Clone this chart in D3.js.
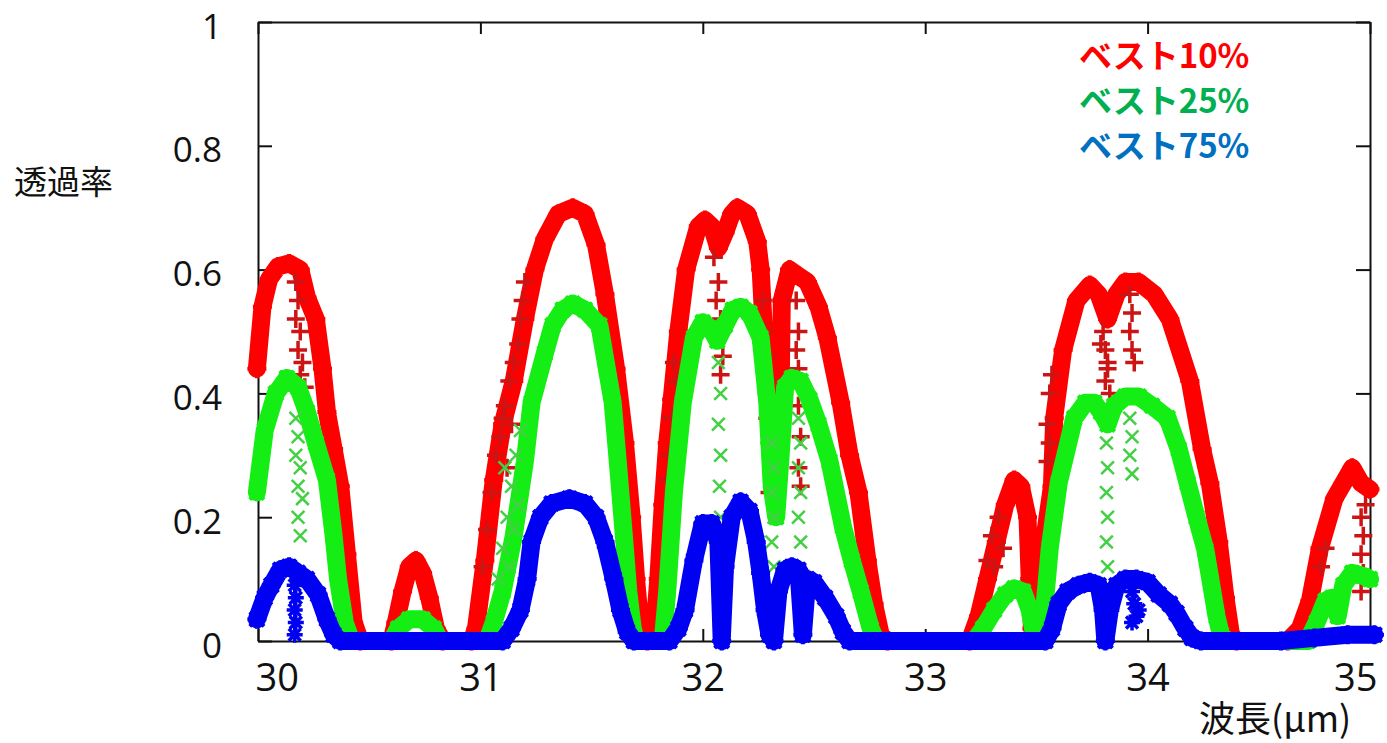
<!DOCTYPE html>
<html>
<head>
<meta charset="utf-8">
<script src="https://cdn.jsdelivr.net/npm/d3@7"></script>
<style>
  body { margin: 0; background: #fff; }
  svg { display: block; }
</style>
</head>
<body>
<div id="chart"></div>
<script>
// axis ticks and legend
const xTicks = [30, 31, 32, 33, 34, 35];
const yTicks = [0, 0.2, 0.4, 0.6, 0.8, 1];
const legendLabels = ['ベスト10%', 'ベスト25%', 'ベスト75%'];

// envelope of each series [wavelength, transmittance]
const best10 = [
  [29.995, 0.44], [30.02, 0.54], [30.05, 0.585], [30.09, 0.605], [30.14, 0.61], [30.19, 0.60], [30.22, 0.555],
  [30.26, 0.52], [30.29, 0.44], [30.31, 0.37], [30.34, 0.31], [30.37, 0.25], [30.40, 0.14], [30.43, 0.03], [30.46, 0.0],
  [30.60, 0.0], [30.62, 0.03], [30.65, 0.08], [30.68, 0.12], [30.71, 0.13], [30.74, 0.11], [30.77, 0.07], [30.80, 0.02], [30.83, 0.0],
  [30.96, 0.0], [30.98, 0.02], [31.02, 0.13], [31.06, 0.26], [31.10, 0.35], [31.15, 0.42], [31.20, 0.52], [31.245, 0.60],
  [31.29, 0.65], [31.35, 0.69], [31.415, 0.70], [31.47, 0.69], [31.52, 0.64], [31.56, 0.56], [31.61, 0.44], [31.65, 0.32],
  [31.68, 0.20], [31.70, 0.10], [31.72, 0.02], [31.75, 0.0],
  [31.78, 0.01], [31.80, 0.10], [31.82, 0.22], [31.84, 0.32], [31.86, 0.39], [31.89, 0.50], [31.925, 0.60], [31.98, 0.67],
  [32.01, 0.68], [32.04, 0.67], [32.07, 0.635], [32.10, 0.66], [32.13, 0.69], [32.155, 0.70], [32.20, 0.69], [32.245, 0.645],
  [32.26, 0.60], [32.29, 0.40], [32.31, 0.30], [32.33, 0.30], [32.35, 0.40], [32.355, 0.55], [32.39, 0.60], [32.43, 0.59],
  [32.47, 0.58], [32.52, 0.54], [32.56, 0.49], [32.62, 0.385], [32.66, 0.30], [32.70, 0.24], [32.74, 0.13], [32.77, 0.06],
  [32.80, 0.01], [32.83, 0.0],
  [33.20, 0.0], [33.24, 0.04], [33.28, 0.10], [33.32, 0.16], [33.36, 0.22], [33.40, 0.26], [33.43, 0.25], [33.46, 0.20],
  [33.47, 0.10], [33.48, 0.02], [33.51, 0.01], [33.53, 0.15], [33.57, 0.25], [33.58, 0.36], [33.62, 0.47], [33.68, 0.55],
  [33.74, 0.575], [33.78, 0.56], [33.82, 0.52], [33.86, 0.56], [33.90, 0.58], [33.96, 0.58], [34.03, 0.56], [34.10, 0.52],
  [34.19, 0.42], [34.245, 0.31], [34.28, 0.255], [34.32, 0.16], [34.35, 0.07], [34.375, 0.01], [34.40, 0.0],
  [34.63, 0.0], [34.685, 0.02], [34.73, 0.065], [34.775, 0.15], [34.84, 0.23], [34.88, 0.255], [34.92, 0.28], [34.96, 0.255], [35.0, 0.245]
];

const best25 = [
  [29.995, 0.24], [30.03, 0.34], [30.08, 0.40], [30.13, 0.425], [30.18, 0.41], [30.22, 0.37], [30.26, 0.32], [30.31, 0.26],
  [30.34, 0.17], [30.36, 0.10], [30.39, 0.03], [30.42, 0.0],
  [30.60, 0.0], [30.63, 0.02], [30.68, 0.035], [30.74, 0.035], [30.79, 0.02], [30.82, 0.0],
  [31.03, 0.0], [31.06, 0.03], [31.10, 0.08], [31.15, 0.17], [31.20, 0.29], [31.23, 0.385], [31.29, 0.465], [31.325, 0.51],
  [31.37, 0.535], [31.415, 0.545], [31.47, 0.535], [31.535, 0.51], [31.595, 0.385], [31.62, 0.28], [31.645, 0.17],
  [31.665, 0.08], [31.685, 0.02], [31.70, 0.0],
  [31.82, 0.0], [31.84, 0.08], [31.87, 0.24], [31.91, 0.385], [31.96, 0.49], [32.0, 0.515], [32.035, 0.505], [32.065, 0.485],
  [32.10, 0.51], [32.135, 0.535], [32.17, 0.54], [32.21, 0.53], [32.26, 0.49], [32.29, 0.385], [32.31, 0.25], [32.33, 0.20],
  [32.35, 0.30], [32.37, 0.41], [32.40, 0.425], [32.44, 0.42], [32.48, 0.39], [32.52, 0.35], [32.57, 0.29], [32.63, 0.185],
  [32.67, 0.13], [32.71, 0.08], [32.755, 0.02], [32.78, 0.0],
  [33.22, 0.0], [33.26, 0.02], [33.31, 0.05], [33.36, 0.075], [33.40, 0.085], [33.44, 0.08], [33.47, 0.05], [33.49, 0.01],
  [33.51, 0.0], [33.53, 0.03], [33.56, 0.15], [33.60, 0.255], [33.67, 0.36], [33.72, 0.385], [33.76, 0.385], [33.79, 0.37],
  [33.82, 0.35], [33.85, 0.38], [33.90, 0.395], [33.96, 0.395], [34.02, 0.38], [34.09, 0.36], [34.14, 0.31], [34.18, 0.255],
  [34.22, 0.20], [34.26, 0.147], [34.31, 0.04], [34.33, 0.01], [34.36, 0.0],
  [34.72, 0.0], [34.76, 0.03], [34.80, 0.065], [34.83, 0.07], [34.855, 0.04], [34.88, 0.09], [34.92, 0.11], [34.97, 0.105], [35.0, 0.10]
];

const best75 = [
  [29.995, 0.035], [30.03, 0.07], [30.06, 0.09], [30.10, 0.115], [30.14, 0.12], [30.18, 0.11], [30.22, 0.10], [30.27, 0.075],
  [30.31, 0.035], [30.34, 0.01], [30.37, 0.0],
  [31.10, 0.0], [31.14, 0.02], [31.18, 0.05], [31.21, 0.10], [31.23, 0.16], [31.27, 0.20], [31.32, 0.222], [31.40, 0.23],
  [31.47, 0.222], [31.52, 0.20], [31.56, 0.16], [31.60, 0.10], [31.63, 0.05], [31.66, 0.015], [31.69, 0.0],
  [31.85, 0.0], [31.89, 0.02], [31.92, 0.05], [31.96, 0.13], [32.0, 0.19], [32.04, 0.19], [32.07, 0.16], [32.085, 0.0],
  [32.10, 0.12], [32.13, 0.20], [32.17, 0.225], [32.21, 0.21], [32.24, 0.16], [32.26, 0.11], [32.28, 0.05], [32.30, 0.01],
  [32.32, 0.0], [32.34, 0.08], [32.37, 0.115], [32.40, 0.12], [32.43, 0.115], [32.45, 0.01], [32.47, 0.10], [32.50, 0.095],
  [32.55, 0.07], [32.60, 0.04], [32.63, 0.015], [32.66, 0.0],
  [33.54, 0.0], [33.57, 0.02], [33.60, 0.06], [33.64, 0.08], [33.69, 0.09], [33.74, 0.095], [33.78, 0.09], [33.80, 0.05],
  [33.81, 0.0], [33.83, 0.05], [33.86, 0.09], [33.90, 0.10], [33.95, 0.10], [34.0, 0.095], [34.05, 0.075], [34.10, 0.06],
  [34.13, 0.045], [34.17, 0.02], [34.20, 0.005], [34.24, 0.0],
  [34.60, 0.0], [34.75, 0.005], [34.90, 0.01], [35.02, 0.01]
];

// loose points that fall below the envelopes
const best10Scatter = [
  [30.17, 0.58], [30.18, 0.55], [30.17, 0.52], [30.19, 0.50], [30.18, 0.47], [30.20, 0.45], [30.19, 0.43], [30.21, 0.41],
  [31.20, 0.58], [31.19, 0.55], [31.18, 0.52], [31.17, 0.48], [31.15, 0.45], [31.13, 0.42], [31.11, 0.38], [31.10, 0.36],
  [31.09, 0.33], [31.07, 0.30], [31.05, 0.24], [31.03, 0.18], [31.01, 0.12], [31.12, 0.28], [31.14, 0.35],
  [32.05, 0.62], [32.07, 0.58], [32.06, 0.55], [32.08, 0.52], [32.07, 0.49], [32.09, 0.46], [32.08, 0.43],
  [31.87, 0.45], [31.88, 0.42], [31.86, 0.36], [31.85, 0.30], [31.84, 0.26],
  [32.27, 0.55], [32.28, 0.50], [32.29, 0.46], [32.30, 0.42], [32.29, 0.36], [32.30, 0.32], [32.31, 0.28], [32.30, 0.24],
  [32.42, 0.55], [32.43, 0.50], [32.42, 0.47], [32.43, 0.44], [32.44, 0.41], [32.43, 0.38], [32.44, 0.33], [32.43, 0.28], [32.44, 0.25],
  [33.80, 0.50], [33.81, 0.47], [33.82, 0.44], [33.81, 0.42], [33.83, 0.40], [33.82, 0.45], [33.79, 0.48],
  [33.92, 0.56], [33.93, 0.53], [33.92, 0.50], [33.93, 0.47], [33.94, 0.45],
  [33.55, 0.35], [33.56, 0.32], [33.55, 0.29], [33.56, 0.40], [33.57, 0.43],
  [33.28, 0.13], [33.30, 0.17], [33.33, 0.20], [33.31, 0.12], [33.35, 0.15],
  [34.96, 0.20], [34.97, 0.17], [34.96, 0.14], [34.97, 0.11], [34.96, 0.08], [34.98, 0.22], [34.78, 0.12], [34.80, 0.15]
];

const best25Scatter = [
  [30.17, 0.36], [30.18, 0.33], [30.17, 0.30], [30.19, 0.28], [30.18, 0.25], [30.20, 0.23], [30.18, 0.20], [30.19, 0.17],
  [31.08, 0.10], [31.10, 0.15], [31.12, 0.20], [31.14, 0.25], [31.16, 0.30], [31.17, 0.22], [31.13, 0.12], [31.18, 0.34],
  [31.11, 0.28], [31.15, 0.18],
  [32.07, 0.45], [32.08, 0.40], [32.07, 0.35], [32.08, 0.30], [32.075, 0.25], [32.08, 0.20],
  [32.31, 0.32], [32.32, 0.28], [32.31, 0.24], [32.32, 0.20], [32.31, 0.16], [32.32, 0.12],
  [32.43, 0.36], [32.44, 0.32], [32.43, 0.28], [32.44, 0.24], [32.43, 0.20], [32.44, 0.16],
  [33.815, 0.32], [33.82, 0.28], [33.815, 0.24], [33.82, 0.20], [33.815, 0.16], [33.82, 0.12],
  [33.92, 0.36], [33.93, 0.33], [33.92, 0.30], [33.93, 0.27]
];

const best75Scatter = [
  [30.165, 0.09], [30.17, 0.07], [30.165, 0.05], [30.17, 0.03], [30.165, 0.01],
  [33.93, 0.08], [33.94, 0.06], [33.95, 0.04], [33.93, 0.03], [33.96, 0.05]
];

const width = 1387;
const height = 743;

const svg = d3.select('#chart')
  .append('svg')
  .attr('width', width)
  .attr('height', height);

const x = d3.scaleLinear().domain([30, 35]).range([258, 1370]);
const y = d3.scaleLinear().domain([0, 1]).range([641, 22]);

// marker shapes like gnuplot's point types
const plusShape = {
  draw(ctx, size) {
    const r = Math.sqrt(size) / 2;
    ctx.moveTo(-r, 0); ctx.lineTo(r, 0);
    ctx.moveTo(0, -r); ctx.lineTo(0, r);
  }
};
const crossShape = {
  draw(ctx, size) {
    const r = Math.sqrt(size) / 2 * 0.75;
    ctx.moveTo(-r, -r); ctx.lineTo(r, r);
    ctx.moveTo(-r, r); ctx.lineTo(r, -r);
  }
};
const starShape = {
  draw(ctx, size) {
    plusShape.draw(ctx, size);
    crossShape.draw(ctx, size);
  }
};

// frame with inward ticks on all four sides
const fmt = d3.format('');
const frame = svg.append('g').attr('class', 'frame');

const leftAxis = frame.append('g')
  .attr('transform', `translate(${x(30)},0)`)
  .call(d3.axisLeft(y).tickValues(yTicks).tickFormat(fmt).tickSizeInner(-14).tickSizeOuter(0).tickPadding(36));
frame.append('g')
  .attr('transform', `translate(${x(35)},0)`)
  .call(d3.axisRight(y).tickValues(yTicks).tickFormat('').tickSizeInner(-14).tickSizeOuter(0));
frame.append('g')
  .attr('transform', `translate(0,${y(1)})`)
  .call(d3.axisTop(x).tickValues(xTicks).tickFormat('').tickSizeInner(-12).tickSizeOuter(0));
const bottomAxis = frame.append('g')
  .attr('transform', `translate(0,${y(0)})`)
  .call(d3.axisBottom(x).tickValues(xTicks).tickFormat(fmt).tickSizeInner(-12).tickSizeOuter(0).tickPadding(23));

frame.selectAll('.domain, .tick line')
  .attr('stroke', '#111')
  .attr('stroke-width', 2);

leftAxis.selectAll('text')
  .attr('font-family', '"Open Sans", "Noto Sans", sans-serif')
  .attr('font-size', 35)
  .attr('dy', '0.46em')
  .attr('fill', '#111');

bottomAxis.selectAll('text')
  .attr('font-family', '"Open Sans", "Noto Sans", sans-serif')
  .attr('font-size', 38)
  .attr('fill', '#111')
  .attr('text-anchor', d => d === 30 ? 'start' : d === 35 ? 'end' : 'middle')
  .attr('dx', d => d === 30 ? -3 : d === 35 ? 7 : 0);

// series
const line = d3.line()
  .x(d => x(d[0]))
  .y(d => y(d[1]));

const series = [
  { name: legendLabels[0], main: best10, loose: best10Scatter, color: '#ff0000', looseColor: '#cc1414', shape: plusShape, size: 361, looseSize: 324, looseWidth: 3.5 },
  { name: legendLabels[1], main: best25, loose: best25Scatter, color: '#14ee14', looseColor: '#44d044', shape: crossShape, size: 361, looseSize: 289, looseWidth: 2.5 },
  { name: legendLabels[2], main: best75, loose: best75Scatter, color: '#0000f2', looseColor: '#0000f2', shape: starShape, size: 361, looseSize: 256, looseWidth: 3.5 }
];

series.forEach(s => {
  const g = svg.append('g').attr('class', 'series');

  g.append('path')
    .datum(s.main)
    .attr('d', line)
    .attr('fill', 'none')
    .attr('stroke', s.color)
    .attr('stroke-width', 18)
    .attr('stroke-linejoin', 'round')
    .attr('stroke-linecap', 'round');

  g.selectAll('path.pt')
    .data(s.main)
    .enter()
    .append('path')
    .attr('class', 'pt')
    .attr('transform', d => `translate(${x(d[0])},${y(d[1])})`)
    .attr('d', d3.symbol().type(s.shape).size(s.size))
    .attr('fill', 'none')
    .attr('stroke', s.color)
    .attr('stroke-width', 4);

  g.selectAll('path.loose')
    .data(s.loose)
    .enter()
    .append('path')
    .attr('class', 'loose')
    .attr('transform', d => `translate(${x(d[0])},${y(d[1])})`)
    .attr('d', d3.symbol().type(s.shape).size(s.looseSize))
    .attr('fill', 'none')
    .attr('stroke', s.looseColor)
    .attr('stroke-width', s.looseWidth);
});

// axis titles
svg.append('text')
  .attr('x', 14)
  .attr('y', 194)
  .attr('font-family', '"Noto Sans CJK JP", sans-serif')
  .attr('font-size', 33)
  .attr('fill', '#111')
  .text('透過率');

svg.append('text')
  .attr('x', 1199)
  .attr('y', 732)
  .attr('font-family', '"Noto Sans CJK JP", sans-serif')
  .attr('font-size', 36)
  .attr('fill', '#111')
  .text('波長(μm)');

// legend
const legendColors = ['#ff0000', '#00b050', '#0070c0'];
svg.selectAll('text.legend')
  .data(legendLabels)
  .enter()
  .append('text')
  .attr('class', 'legend')
  .attr('x', 1079)
  .attr('y', (d, i) => 68 + i * 45)
  .attr('font-family', '"Noto Sans CJK JP", sans-serif')
  .attr('font-weight', 'bold')
  .attr('font-size', 33)
  .attr('fill', (d, i) => legendColors[i])
  .text(d => d);
</script>
</body>
</html>
